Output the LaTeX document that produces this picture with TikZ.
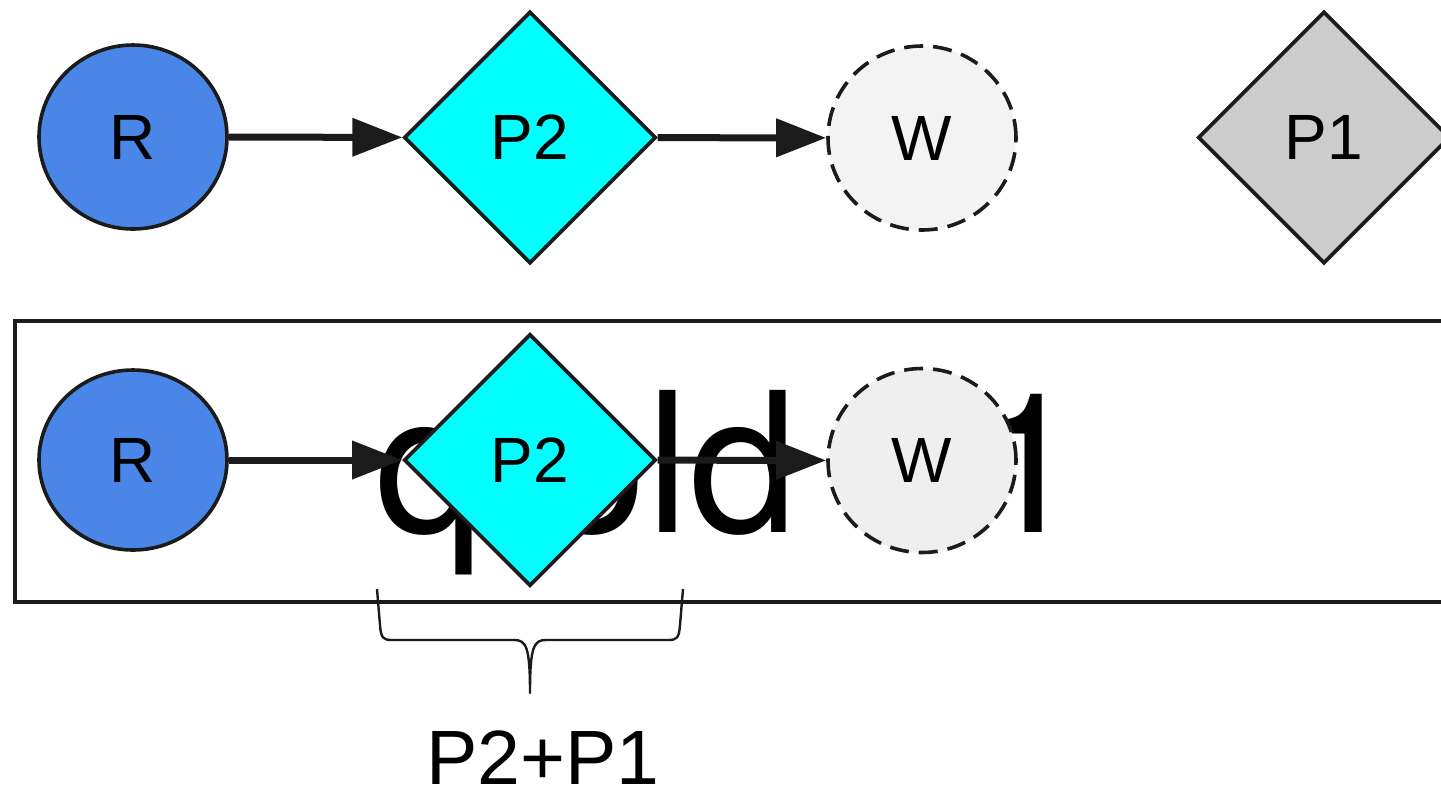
\documentclass[tikz,border=0pt]{standalone}
\usepackage{fontspec}
\setmainfont{Liberation Sans}
\newfontfamily\heros{TeX Gyre Heros}
\usetikzlibrary{shapes.geometric,arrows.meta}

\definecolor{ink}{HTML}{1B1B1B}
\definecolor{rfill}{HTML}{4A86E8}
\definecolor{pfill}{HTML}{00FFFF}
\definecolor{wfill}{HTML}{F3F3F3}
\definecolor{wfillb}{HTML}{EFEFEF}
\definecolor{qfill}{HTML}{CCCCCC}

\tikzset{
  base/.style={draw=ink, line width=1.8pt, inner sep=0pt, font=\fontsize{32pt}{32pt}\selectfont},
  rnode/.style={base, ellipse, fill=rfill, minimum width=94pt, minimum height=92pt},
  pnode/.style={base, diamond, fill=pfill, minimum width=126pt, minimum height=126pt},
  wnode/.style={base, ellipse, fill=wfill, dash pattern=on 9.5pt off 5pt, minimum width=94pt, minimum height=92pt},
  flow/.style={draw=ink, line width=3.5pt, -{Triangle[length=25pt,width=18.5pt]}},
  frame/.style={draw=ink, line width=1.8pt},
  bracepath/.style={draw=ink, line width=1.2pt, line join=round}
}

\begin{document}
\begin{tikzpicture}[x=0.5pt,y=-0.5pt]
  \useasboundingbox (0,0) rectangle (1441,789);

  % frame around the second row
  \draw[frame] (15,321) rectangle (1480,602);

  % large text lying behind the second row
  \node[anchor=base west, inner sep=0pt, text=black,
        font=\heros\fontsize{97.5pt}{97.5pt}\selectfont] (bigtext) at (375,532) {q old\hspace{88pt}1};

  % first row
  \node[rnode] (r1) at (133,137) {R};
  \node[pnode] (p21) at (530,137.5) {P2};
  \node[wnode] (w1) at (922,138) {W};
  \node[pnode, fill=qfill] (p1) at (1324,137.5) {P1};
  \draw[flow] (r1) -- (p21);
  \draw[flow] (p21) -- (w1);

  % second row
  \node[rnode, minimum height=90pt] (r2) at (133,460) {R};
  \node[pnode] (p22) at (530,460) {P2};
  \node[wnode, fill=wfillb] (w2) at (922,460.5) {W};
  \draw[flow] (r2) -- (p22);
  \draw[flow] (p22) -- (w2);

  % brace under the diamond with its label
  \draw[bracepath] (377,589) -- (380,625)
    .. controls (381,638) and (383,640) .. (392,640) -- (514,640)
    .. controls (526,640) and (530,646) .. (530,693)
    .. controls (530,646) and (534,640) .. (546,640) -- (668,640)
    .. controls (677,640) and (679,638) .. (680,625) -- (683,589);
  \node[anchor=base, inner sep=0pt, font=\fontsize{38.5pt}{38.5pt}\selectfont] (sum) at (543,784) {P2+P1};
\end{tikzpicture}
\end{document}
